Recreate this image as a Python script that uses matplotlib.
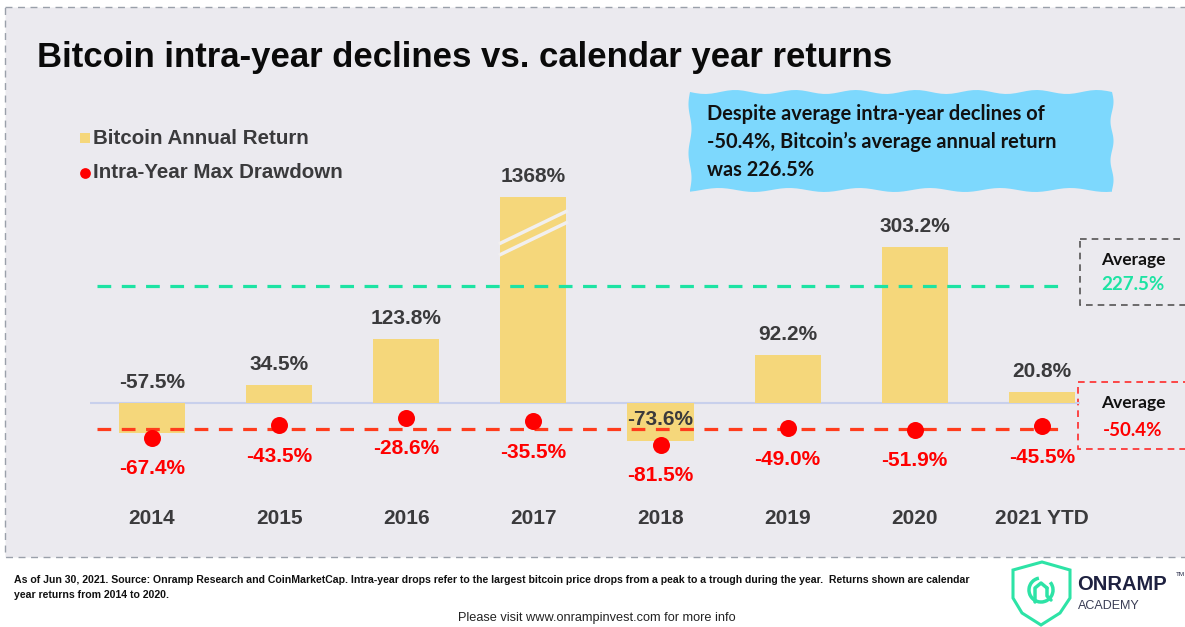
import numpy as np
import matplotlib
matplotlib.use("Agg")
import matplotlib.pyplot as plt
from matplotlib.patches import Rectangle, Polygon, Arc

# datos
years = ['2014', '2015', '2016', '2017', '2018', '2019', '2020', '2021 YTD']
annual_return = [-57.5, 34.5, 123.8, 1368, -73.6, 92.2, 303.2, 20.8]
max_drawdown = [-67.4, -43.5, -28.6, -35.5, -81.5, -49.0, -51.9, -45.5]
avg_return = 227.5
avg_drawdown = -50.4
bar_cap = 400  # la barra de 2017 se corta aqui

W, H = 1185, 627
BG = '#ebeaef'
BAR = '#f5d77b'
DARK = '#3a3a3c'
RED = '#ff0000'

fig = plt.figure(figsize=(W / 100, H / 100), dpi=100)

# capa de fondo en pixeles
bg = fig.add_axes([0, 0, 1, 1], zorder=0)
bg.set_xlim(0, W)
bg.set_ylim(H, 0)
bg.axis('off')

bg.add_patch(Rectangle((5, 7), W, 550, facecolor=BG, edgecolor='#9aa0aa',
                       lw=1, ls=(0, (5, 4))))

# titulo
bg.text(37, 57, 'Bitcoin intra-year declines vs. calendar year returns',
        fontsize=25, fontweight='bold', family='Liberation Sans',
        color='#0a0a0a', va='center', ha='left')

# leyenda
bg.add_patch(Rectangle((80, 133), 10, 10, facecolor=BAR, edgecolor='none'))
bg.scatter([85], [173], s=60, color=RED, zorder=3, linewidths=0)
bg.text(93, 138, 'Bitcoin Annual Return', fontsize=14.8, fontweight='bold',
        family='Liberation Sans', color=DARK, va='center')
bg.text(93, 173, 'Intra-Year Max Drawdown', fontsize=14.8, fontweight='bold',
        family='Liberation Sans', color=DARK, va='center')

# cuadro azul ondulado
x0, x1, y0, y1 = 690, 1112, 92, 190
t = np.linspace(0, 1, 80)
top = np.column_stack([x0 + (x1 - x0) * t, y0 + 2.0 * np.sin(t * 14 * np.pi)])
right = np.column_stack([x1 + 1.5 * np.sin(t * 5 * np.pi), y0 + (y1 - y0) * t])
bottom = np.column_stack([x1 - (x1 - x0) * t, y1 + 2.0 * np.sin(t * 12 * np.pi + 1)])
left = np.column_stack([x0 + 1.5 * np.sin(t * 4 * np.pi), y1 - (y1 - y0) * t])
bg.add_patch(Polygon(np.vstack([top, right, bottom, left]), closed=True,
                     facecolor='#7dd8fd', edgecolor='none'))
callout = ['Despite average intra-year declines of',
           '-50.4%, Bitcoin\u2019s average annual return',
           'was 226.5%']
for k, line in enumerate(callout):
    bg.text(707, 114 + 28 * k, line, fontsize=14.4, fontweight='bold',
            family='Lato', color='#111111', va='center')

# cajas de promedio
bg.add_patch(Rectangle((1080, 239), 120, 66, facecolor='none', edgecolor='#555555',
                       lw=1.2, ls=(0, (4, 3))))
bg.text(1133, 260, 'Average', fontsize=12.5, fontweight='bold', family='Lato',
        color='#111111', ha='center', va='center')
bg.text(1133, 285, f'{avg_return:.1f}%', fontsize=13.5, fontweight='bold',
        family='Lato', color='#1de3a3', ha='center', va='center')
bg.add_patch(Rectangle((1078, 382), 120, 67, facecolor='none', edgecolor='#ff2a2a',
                       lw=1.2, ls=(0, (4, 3))))
bg.text(1133, 403, 'Average', fontsize=12.5, fontweight='bold', family='Lato',
        color='#111111', ha='center', va='center')
bg.text(1133, 430, f'{avg_drawdown:.1f}%', fontsize=13.5, fontweight='bold',
        family='Lato', color=RED, ha='center', va='center')

# pie de pagina
foot = ('As of Jun 30, 2021. Source: Onramp Research and CoinMarketCap. Intra-year drops '
        'refer to the largest bitcoin price drops from a peak to a trough during the year.  '
        'Returns shown are calendar')
bg.text(14, 580, foot, fontsize=7.55, fontweight='bold', family='Liberation Sans',
        color='#111111', va='center')
bg.text(14, 595, 'year returns from 2014 to 2020.', fontsize=7.55, fontweight='bold',
        family='Liberation Sans', color='#111111', va='center')
bg.text(597, 618, 'Please visit www.onrampinvest.com for more info', fontsize=9.2,
        family='Liberation Sans', color='#222222', ha='center', va='center')

# logo
teal = '#2de3a6'
shield = [(1013, 570), (1042, 562), (1070, 570), (1070, 598), (1060, 613),
          (1041, 625), (1022, 613), (1013, 598)]
bg.add_patch(Polygon(shield, closed=True, facecolor='white', edgecolor=teal, lw=2.2))
bg.add_patch(Arc((1041, 590), 24, 24, theta1=-40, theta2=260, color=teal, lw=2.5))
bg.plot([1035, 1035, 1041, 1047], [602, 588, 583, 588], color=teal, lw=2.5,
        solid_capstyle='round')
bg.plot([1047, 1047, 1051], [588, 596, 600], color=teal, lw=2.5, solid_capstyle='round')
bg.text(1077, 585, 'ONRAMP', fontsize=14.5, fontweight='bold', family='Liberation Sans',
        color='#1e2140', va='center')
bg.text(1176, 575, 'TM', fontsize=4.5, family='Liberation Sans', color='#1e2140', va='center')
bg.text(1078, 606, 'ACADEMY', fontsize=9, family='Liberation Sans', color='#3a3d55',
        va='center')

# grafico principal
ax = fig.add_axes([90 / W, 1 - 540 / H, 990 / W, 390 / H], zorder=1)
ax.patch.set_alpha(0)
ax.set_xlim(-0.488, 7.30)
ax.set_ylim(-266, 491)
ax.axis('off')

x = np.arange(len(years))
heights = [min(v, bar_cap) for v in annual_return]
ax.bar(x, heights, width=0.52, color=BAR, zorder=2)
ax.axhline(0, color='#c8d0ec', lw=1.5, zorder=1)

# marcas de corte en 2017
i17 = years.index('2017')
for off in (0, -22):
    ax.plot([i17 - 0.26, i17 + 0.26], [bar_cap - 90 + off, bar_cap - 28 + off],
            color='#f1efef', lw=2.5, zorder=3)

ax.axhline(avg_return, xmin=0.007, xmax=0.988, color='#1de3a3', lw=2.3,
           dashes=(4.3, 3.3), zorder=3)
ax.axhline(avg_drawdown, xmin=0.007, xmax=0.988, color='#ff3c1c', lw=2.3,
           dashes=(4.3, 3.3), zorder=3)

ax.scatter(x, max_drawdown, s=150, color=RED, zorder=4, linewidths=0)

for i, (v, h, d) in enumerate(zip(annual_return, heights, max_drawdown)):
    lbl = f'{v:.0f}%' if v >= 1000 else f'{v:.1f}%'
    if v < -70:
        ly = v / 2 + 5
    else:
        ly = max(h, 0) + 40
    ax.text(i, ly, lbl, ha='center', va='center', fontsize=15, fontweight='bold',
            family='Liberation Sans', color=DARK, zorder=5)
    ax.text(i, d - 60, f'{d:.1f}%', ha='center', va='center', fontsize=15,
            fontweight='bold', family='Liberation Sans', color=RED, zorder=5)
    ax.text(i, -225, years[i], ha='center', va='center', fontsize=15,
            fontweight='bold', family='Liberation Sans', color=DARK, zorder=5)

fig.savefig('out.png', dpi=100, facecolor='white')
